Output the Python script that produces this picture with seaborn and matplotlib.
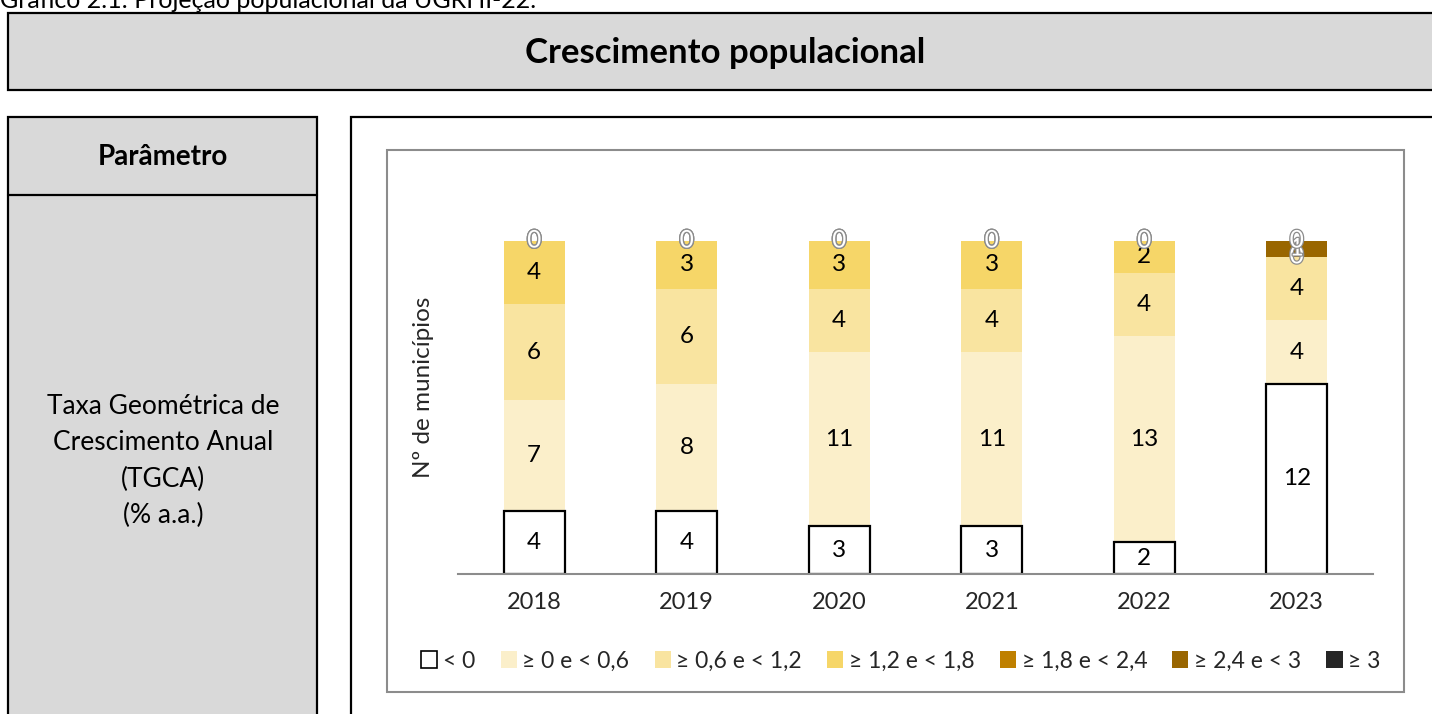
import matplotlib
matplotlib.use("Agg")
import matplotlib.pyplot as plt
import matplotlib.patheffects as pe
from matplotlib.patches import Rectangle, Patch
import numpy as np
import seaborn as sns

years = ["2018", "2019", "2020", "2021", "2022", "2023"]
classes = ["< 0", "≥ 0 e < 0,6", "≥ 0,6 e < 1,2", "≥ 1,2 e < 1,8",
           "≥ 1,8 e < 2,4", "≥ 2,4 e < 3", "≥ 3"]
v_lt0 = [4, 4, 3, 3, 2, 12]
v_0_06 = [7, 8, 11, 11, 13, 4]
v_06_12 = [6, 6, 4, 4, 4, 4]
v_12_18 = [4, 3, 3, 3, 2, 0]
v_18_24 = [0, 0, 0, 0, 0, 0]
v_24_3 = [0, 0, 0, 0, 0, 1]
v_ge3 = [0, 0, 0, 0, 0, 0]
series = [v_lt0, v_0_06, v_06_12, v_12_18, v_18_24, v_24_3, v_ge3]
colors = ["#FFFFFF", "#FBEFCA", "#F9E4A0", "#F6D668", "#BF8000", "#996600", "#262626"]
white_label = [False, False, False, False, True, True, True]

sns.set_theme(style="white")
FONT = ["Lato", "DejaVu Sans"]
plt.rcParams["font.family"] = FONT

W, H = 1432, 714
fig = plt.figure(figsize=(W / 100, H / 100), dpi=100)

bg = fig.add_axes([0, 0, 1, 1])
bg.set_xlim(0, W)
bg.set_ylim(H, 0)
bg.axis("off")

def rect(x0, y0, x1, y1, fc, ec, lw):
    bg.add_patch(Rectangle((x0, y0), x1 - x0, y1 - y0, facecolor=fc,
                           edgecolor=ec, linewidth=lw, clip_on=False))

rect(8, 13, 1445, 90, "#D9D9D9", "black", 1.6)
rect(8, 117, 317, 730, "#D9D9D9", "black", 1.6)
bg.plot([8, 317], [195, 195], color="black", lw=1.6)
rect(351, 117, 1445, 730, "white", "black", 1.6)
rect(387, 150, 1404, 692, "white", "#8C8C8C", 1.5)

bg.text(0, 8, "Gráfico 2.1: Projeção populacional da UGRHI-22.", fontsize=18,
        va="baseline", ha="left", color="black")
bg.text(725, 53, "Crescimento populacional", fontsize=25, fontweight="bold",
        ha="center", va="center", color="black")
bg.text(163, 157, "Parâmetro", fontsize=20, fontweight="bold",
        ha="center", va="center", color="black")
for i, line in enumerate(["Taxa Geométrica de", "Crescimento Anual", "(TGCA)", "(% a.a.)"]):
    bg.text(163, 407 + i * 36, line, fontsize=19, ha="center", va="center", color="black")

# chart axes
unit = 333 / 21.0
ymax = 24
top_px = 574 - ymax * unit
ax = fig.add_axes([458 / W, 1 - 574 / H, 915 / W, (574 - top_px) / H])
ax.set_facecolor("none")

cum = np.cumsum(np.array(series, dtype=float), axis=0)
for i in range(len(series) - 1, -1, -1):
    sns.barplot(x=years, y=cum[i], color=colors[i], saturation=1, width=0.4,
                ax=ax, linewidth=1.6 if i == 0 else 0,
                edgecolor="black" if i == 0 else colors[i])

ax.set_ylim(0, ymax)
ax.set_xlim(-0.5, 5.5)
for s in ["top", "left", "right"]:
    ax.spines[s].set_visible(False)
ax.spines["bottom"].set_color("#8C8C8C")
ax.spines["bottom"].set_linewidth(1.5)
ax.set_yticks([])
ax.set_xticks(range(len(years)))
ax.set_xticklabels(years, fontsize=17)
ax.tick_params(axis="x", which="major", length=0, pad=13)
ax.set_xticks(np.arange(-0.5, len(years), 1.0), minor=True)
ax.tick_params(axis="x", which="minor", length=8, width=1.5, color="#8C8C8C", direction="out")
ax.set_xlabel("")
ax.set_ylabel("")

base = np.zeros(len(years))
for i, vals in enumerate(series):
    for j, v in enumerate(vals):
        yc = base[j] + v / 2.0
        if white_label[i]:
            ax.text(j, yc, str(v), ha="center", va="center", fontsize=17.5,
                    color="white", clip_on=False,
                    path_effects=[pe.withStroke(linewidth=1.8, foreground="#8C8C8C")])
        else:
            if v == 0 and i < 3:
                continue
            ax.text(j, yc, str(v), ha="center", va="center", fontsize=17.5,
                    color="black", clip_on=False)
    base = base + np.array(vals)

fig.text(423 / W, 1 - 387 / H, "Nº de municípios", rotation=90, fontsize=17.5,
         ha="center", va="center")

handles = [Patch(facecolor=c, edgecolor="black" if k == 0 else c, linewidth=1.2 if k == 0 else 0)
           for k, c in enumerate(colors)]
fig.legend(handles, classes, loc="center", bbox_to_anchor=(901 / W, 1 - 661 / H),
           ncol=7, frameon=False, fontsize=16.5, handlelength=0.7, handleheight=0.7,
           handletextpad=0.25, columnspacing=1.1)

fig.savefig("out.png", dpi=100)
